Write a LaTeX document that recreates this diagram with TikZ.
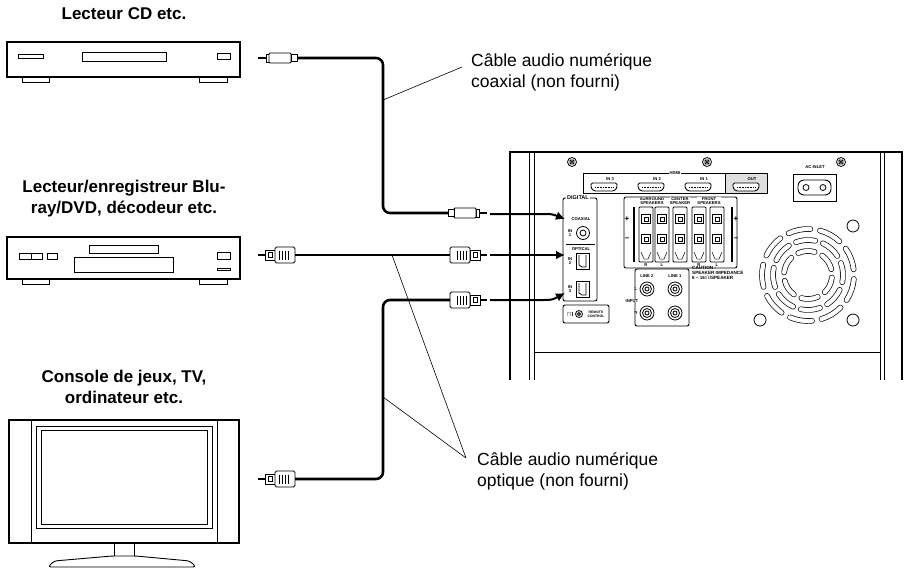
\documentclass[tikz,border=0pt]{standalone}
\usepackage{fontspec}
\setmainfont{Liberation Sans}
\usetikzlibrary{arrows.meta, positioning}

\tikzset{
  device/.style={line width=1.4pt, fill=white},
  part/.style={line width=0.9pt},
  cable/.style={line width=2.6pt, rounded corners=7pt},
  leader/.style={line width=0.6pt},
  feed/.style={line width=2pt, -{Latex[length=9pt, width=9pt]}},
  title/.style={font=\bfseries\fontsize{17}{21}\selectfont, align=center},
  label/.style={font=\fontsize{17.5}{21}\selectfont, align=left, anchor=north west, inner sep=0pt},
  tiny/.style={font=\bfseries\fontsize{4.2}{4.6}\selectfont, inner sep=0pt, align=center},
  jack/.style={line width=0.8pt},
  slot/.style={line width=0.7pt, double=white, double distance=4.2pt, line cap=round},
  optplug/.pic={
    \draw[line width=2pt] (0,0) -- (7,0);
    \draw[part, fill=white] (7,-5) rectangle (17,5);
    \draw[part] (10,-2.5) rectangle (14,2.5);
    \draw[part, fill=white, rounded corners=1.5pt] (17,-8) rectangle (37,8);
    \foreach \k in {21,24,27,30} {
      \draw[line width=0.7pt] (\k,-4.5) -- (\k,4.5);
    }
  },
  coaxplug/.pic={
    \draw[line width=2.4pt] (0,0) -- (8,0);
    \draw[part, fill=white] (8,-4) rectangle (11,4);
    \draw[part, fill=white, rounded corners=1pt] (11,-5) rectangle (33,5);
    \draw[part, fill=white] (33,-3.5) rectangle (39,3.5);
  },
  hdmi/.pic={
    \draw[line width=0.9pt, fill=white, rounded corners=1.5pt] (-13,-4) -- (13,-4) -- (13,1) -- (10,4) -- (-10,4) -- (-13,1) -- cycle;
    \draw[line width=0.5pt, dash pattern=on 0.8pt off 0.8pt] (-9,0) -- (9,0);
  },
  screw/.pic={
    \draw[line width=0.8pt] (0,0) circle (4.5);
    \draw[line width=0.6pt] (-2,-2) rectangle (2,2) (-2,-2) -- (2,2) (-2,2) -- (2,-2);
  }
}

\begin{document}
\begin{tikzpicture}[x=1pt, y=-1pt]
  \useasboundingbox (0,0) rectangle (909,579);

  % sources
  \node[title] (cdtitle) at (124,14) {Lecteur CD etc.};
  \draw[device] (7,42) rectangle (240,77);
  \draw[part] (22,77) rectangle (49,82) (199,77) rectangle (227,82);
  \draw[part] (18,54) rectangle (43,58) (82,52) rectangle (166,61) (217,53) rectangle (230,59);

  \node[title] (bdtitle) at (124,199) {Lecteur/enregistreur Blu-\\ray/DVD, décodeur etc.};
  \draw[device] (7,237) rectangle (240,279);
  \draw[part] (22,279) rectangle (49,284) (199,279) rectangle (227,284);
  \foreach \a/\b in {19/31, 31/42, 47/57} {
    \draw[part] (\a,253) rectangle (\b,259);
  }
  \draw[part] (89,245) rectangle (158,253) (74,257) rectangle (173,272);
  \draw[part] (217,252) rectangle (230,259) (217,268) rectangle (230,270);

  \node[title] (tvtitle) at (124,387) {Console de jeux, TV,\\ordinateur etc.};
  \draw[device] (9,420) rectangle (239,543);
  \draw[part] (31,420) -- (31,543) (217,420) -- (217,543);
  \draw[part] (36,426) rectangle (212,528) (41,430) rectangle (207,524);
  \draw[part] (114,543) rectangle (134,557);
  \draw[part, fill=white, rounded corners=3pt] (48,567) -- (54,561) -- (112,556) -- (136,556) -- (190,561) -- (196,567) -- cycle;

  % receiver rear panel
  \draw[line width=1.4pt] (510,380) -- (510,152) -- (902,152) -- (902,380);
  \draw[part] (529,380) -- (529,152) (534,380) -- (534,352) -- (880,352) -- (880,380);
  \draw[part] (534,152) -- (534,352) (880,152) -- (880,352) (884,152) -- (884,380);
  \foreach \sx in {572,707,841} {
    \pic at (\sx,162) {screw};
  }

  \draw[part, fill=gray!25] (725,173) rectangle (767,193);
  \draw[part] (583,173) rectangle (767,193);
  \node[tiny, fill=white, inner xsep=1pt] (hdmilbl) at (675,173) {HDMI};
  \foreach \px/\pl in {604/IN 3, 651/IN 2, 698/IN 1, 746/OUT} {
    \node[tiny] at (\px+6,179) {\pl};
    \pic at (\px,187) {hdmi};
  }

  \node[tiny] (aclbl) at (815,167) {AC INLET};
  \draw[part] (793,174) rectangle (836,201);
  \draw[part, rounded corners=6pt] (798,180) rectangle (831,195);
  \draw[jack] (806,187.5) circle (3) (823,187.5) circle (3);

  \draw[part, rounded corners=2pt] (563,198) rectangle (597,301);
  \node[tiny, fill=white, inner xsep=1pt, font=\bfseries\fontsize{5.5}{6}\selectfont] (diglbl) at (578,198) {DIGITAL};
  \node[tiny] (coaxlbl) at (581,219) {COAXIAL};
  \draw[jack] (583,233) circle (6.5) (583,233) circle (3);
  \node[tiny] at (570,233) {IN\\1};
  \draw[part] (566,244) -- (595,244);
  \node[tiny] (optlbl) at (581,249) {OPTICAL};
  \foreach \jy/\jn in {253/2, 281/3} {
    \draw[jack] (576,\jy) rectangle (589,\jy+16);
    \draw[jack] (579,\jy+2) -- (579,\jy+12) -- (582,\jy+14) -- (586,\jy+14) -- (586,\jy+2);
    \node[tiny] at (570,\jy+8) {IN\\\jn};
  }
  \draw[part, rounded corners=2pt] (563,305) rectangle (609,323);
  \node[tiny, font=\bfseries\fontsize{6}{6}\selectfont] (rilbl) at (570,314) {$\sqcap$I};
  \draw[jack] (579,314) circle (3.5) (579,314) circle (1.5);
  \node[tiny, font=\bfseries\fontsize{3.4}{3.8}\selectfont] at (596,314) {REMOTE\\CONTROL};

  \draw[part, rounded corners=2pt] (624,197) rectangle (737,268);
  \node[tiny, fill=white] at (652,201) {SURROUND\\SPEAKERS};
  \node[tiny, fill=white] at (680,201) {CENTER\\SPEAKER};
  \node[tiny, fill=white] at (709,201) {FRONT\\SPEAKERS};
  \draw[line width=2pt] (634,207) -- (634,262) (732,207) -- (732,262);
  \foreach \tx in {646,662,680,699,717} {
    \draw[part, fill=white, rounded corners=1pt] (\tx-7,207) -- (\tx+7,207) -- (\tx+7,262) -- (\tx-7,262) -- cycle;
    \foreach \ty in {219,239} {
      \draw[jack] (\tx-4.5,\ty-4.5) rectangle (\tx+4.5,\ty+4.5);
      \draw[line width=0.5pt] (\tx-2,\ty-2) rectangle (\tx+2,\ty+2);
    }
    \draw[line width=0.5pt] (\tx-5,252) -- (\tx-2,259) -- (\tx+2,259) -- (\tx+5,252);
  }
  \node[tiny, font=\bfseries\fontsize{8}{8}\selectfont] at (627,219) {+};
  \node[tiny, font=\bfseries\fontsize{8}{8}\selectfont] at (627,239) {--};
  \node[tiny, font=\bfseries\fontsize{8}{8}\selectfont] at (736,219) {+};
  \node[tiny, font=\bfseries\fontsize{8}{8}\selectfont] at (736,239) {--};
  \foreach \tx/\tl in {646/R, 662/L, 699/R, 717/L} {
    \node[tiny] at (\tx,265) {\tl};
  }

  \draw[part, rounded corners=2pt] (635,269) rectangle (689,326);
  \node[tiny] (line2) at (647,276) {LINE 2};
  \node[tiny] (line1) at (675,276) {LINE 1};
  \foreach \lx in {647,675} {
    \foreach \ly in {289,313} {
      \draw[jack] (\lx,\ly) circle (7) (\lx,\ly) circle (4.5) (\lx,\ly) circle (2);
    }
  }
  \node[tiny, fill=white] at (636,289) {L};
  \node[tiny, fill=white] at (636,313) {R};
  \node[tiny, fill=white] (inputlbl) at (632,301) {INPUT};
  \node[tiny, align=left, anchor=north west, font=\bfseries\fontsize{4.6}{5.2}\selectfont] (caution) at (692,266) {CAUTION :\\SPEAKER IMPEDANCE\\6 -- 16$\Omega$/SPEAKER};

  % fan
  \coordinate (fan) at (808,275);
  \foreach \a in {0,40,...,320} {
    \draw[slot] ([shift={(\a+5:46)}]fan) arc (\a+5:\a+33:46);
  }
  \foreach \a in {20,65,...,335} {
    \draw[slot] ([shift={(\a+5:35)}]fan) arc (\a+5:\a+37:35);
  }
  \foreach \a in {0,60,...,300} {
    \draw[slot] ([shift={(\a+6:24)}]fan) arc (\a+6:\a+46:24);
  }
  \foreach \cx/\cy in {853/226, 760/320, 853/320} {
    \draw[jack] (\cx,\cy) circle (6);
  }

  % plugs
  \pic at (258,58) {coaxplug};
  \pic[xscale=-1] at (487,213) {coaxplug};
  \pic at (258,255) {optplug};
  \pic[xscale=-1] at (487,255) {optplug};
  \pic[xscale=-1] at (487,300) {optplug};
  \pic at (258,479) {optplug};

  \coordinate (cdout) at (297,58);
  \coordinate (coaxin) at (448,213);
  \coordinate (bdout) at (295,255);
  \coordinate (optin2) at (450,255);
  \coordinate (optin3) at (450,300);
  \coordinate (tvout) at (295,479);

  % cables
  \draw[cable] (cdout) -- (383,58) -- (383,213) -- (coaxin);
  \draw[cable] (bdout) -- (optin2);
  \draw[cable] (optin3) -- (383,300) -- (383,479) -- (tvout);

  \draw[feed] (490,214) -- (540,214) .. controls (552,214) .. (565,219);
  \draw[feed] (490,255) -- (565,255);
  \draw[feed] (490,300) -- (540,300) .. controls (552,300) .. (565,293);

  % labels
  \node[label] (coaxcable) at (471,53) {Câble audio numérique\\coaxial (non fourni)};
  \draw[leader] (383,100) -- (462,67);
  \node[label] (optcable) at (477,452) {Câble audio numérique\\optique (non fourni)};
  \draw[leader] (392,255) -- (466,458);
  \draw[leader] (383,397) -- (466,458);
\end{tikzpicture}
\end{document}
